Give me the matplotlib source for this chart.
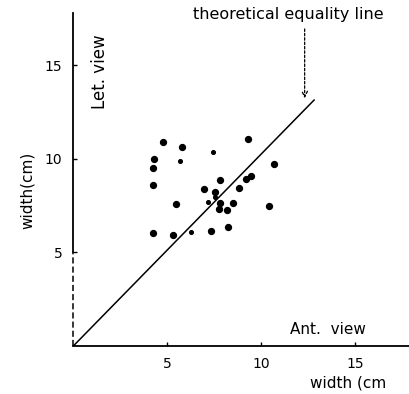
import matplotlib.pyplot as plt

# ant. view width vs lat. view width (cm)
ant_width = [4.79, 5.77, 4.29, 4.26, 9.28, 10.69, 4.22, 6.95, 7.80, 7.54,
             7.80, 7.77, 8.16, 8.51, 8.83, 9.17, 9.44, 5.45, 10.41, 4.22,
             5.29, 7.31, 8.24]
lat_width = [10.93, 10.63, 10.00, 9.53, 11.05, 9.72, 8.59, 8.41, 8.88, 8.24,
             7.66, 7.31, 7.27, 7.63, 8.47, 8.93, 9.11, 7.59, 7.50, 6.04,
             5.92, 6.13, 6.38]
# faint / smaller marks
ant_small = [5.68, 7.45, 7.54, 7.18, 6.24]
lat_small = [9.91, 10.39, 7.98, 7.72, 6.08]

line_x = [0, 12.8]
line_y = [0, 13.15]

ticks = [5, 10, 15]

plt.rcParams['font.family'] = 'DejaVu Sans'

fig = plt.figure(figsize=(4.10, 3.94), dpi=100, facecolor='w')
ax = fig.add_axes([0.1788, 0.1218, 0.8212, 0.845])
ax.set_xlim(0, 17.9)
ax.set_ylim(0, 17.8)

for s in ['top', 'right', 'left']:
    ax.spines[s].set_visible(False)
ax.spines['bottom'].set_linewidth(1.3)

# y axis: dashed below 5, solid above
ax.plot([0, 0], [0, 5], color='k', lw=1.1, ls=(0, (4, 2)), clip_on=False)
ax.plot([0, 0], [5, 17.8], color='k', lw=1.3, clip_on=False)

ax.plot(line_x, line_y, color='k', lw=1.1)
ax.scatter(ant_width, lat_width, s=18, c='k', zorder=3)
ax.scatter(ant_small, lat_small, s=7, c='k', zorder=3)

ax.set_xticks(ticks)
ax.set_yticks(ticks)
ax.tick_params(direction='in', length=3, width=1, labelsize=10, pad=8)

ax.annotate('', xy=(12.3, 13.1), xytext=(12.3, 17.1),
            arrowprops=dict(arrowstyle='->', color='k', lw=0.9, ls=(0, (2, 1.5))))
fig.text(288, 394 - 15, 'theoretical equality line', fontsize=11.5,
         ha='center', va='center', transform=None)
fig.text(100, 394 - 72, 'Let. view', fontsize=12, rotation=90,
         ha='center', va='center', transform=None)
fig.text(27, 394 - 190, 'width(cm)', fontsize=11, rotation=90,
         ha='center', va='center', transform=None)
fig.text(328, 394 - 330, 'Ant.  view', fontsize=11,
         ha='center', va='center', transform=None)
fig.text(310, 394 - 383, 'width (cm', fontsize=11,
         ha='left', va='center', transform=None)

fig.savefig('out.png', dpi=100)
